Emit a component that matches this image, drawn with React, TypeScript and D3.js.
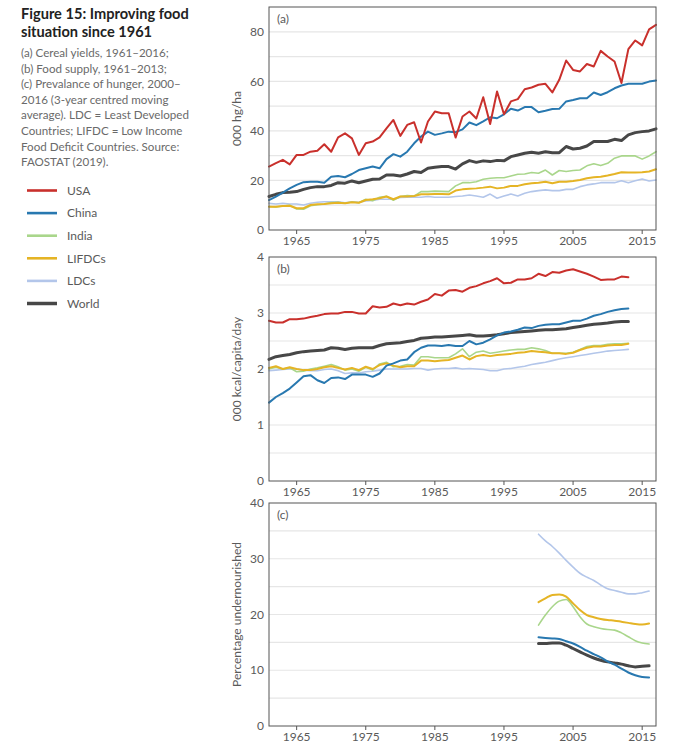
import React from 'react';
import * as d3 from 'd3';

// ---------- DATA ----------
const seriesNames = ['USA', 'China', 'India', 'LIFDCs', 'LDCs', 'World'];
const seriesColors = ['#c9302c', '#2878b0', '#a9d68b', '#e5b425', '#b3c6ea', '#474747'];

const xTickYears = [1965, 1975, 1985, 1995, 2005, 2015];

// (a) Cereal yields, 000 hg/ha, 1961–2017
const yieldStart = 1961;
const yieldUSA = [25.6, 27, 28.3, 26.5, 30.3, 30.3, 31.6, 32, 34.6, 31.6, 37.4, 39, 37, 30.3, 35, 35.7, 37.4, 41, 44.4, 38, 42.4, 43.5, 35.3, 43.8, 47.8, 47.1, 47.1, 37.3, 45.8, 47.8, 45, 53.6, 42.8, 55.9, 46.7, 51.9, 52.8, 56.8, 57.5, 58.6, 59, 55.5, 60.6, 68.4, 64.6, 64, 67, 66, 72.3, 70, 68, 59.3, 73, 76.5, 74.5, 81, 82.8];
const yieldChina = [12.1, 13.5, 15.1, 16.8, 18.2, 19.3, 19.5, 19.5, 19.1, 21.5, 21.8, 21.3, 22.6, 24.2, 24.9, 25.6, 24.9, 28.6, 30.6, 29.6, 31.6, 35, 37.7, 39.7, 38.4, 39, 39.7, 39.5, 40.6, 43.4, 42.3, 43.8, 45.5, 45.1, 46.7, 48.9, 48.2, 49.6, 49.6, 47.5, 48.1, 48.8, 48.9, 51.9, 52.5, 53.2, 53.2, 55.5, 54.5, 55.6, 57.2, 58.3, 59, 59, 59, 59.9, 60.3];
const yieldIndia = [9.5, 9.3, 9.7, 10.0, 8.5, 8.4, 9.8, 10.2, 10.5, 11.1, 11.2, 10.8, 11.3, 11.0, 12.4, 11.8, 13.2, 13.6, 12.0, 13.5, 13.9, 13.7, 15.5, 15.5, 15.7, 15.6, 15.5, 17.8, 19.1, 19.1, 19.5, 20.5, 20.9, 21.1, 21.1, 21.8, 22.5, 22.6, 23.2, 22.9, 24.2, 22.2, 24, 23.6, 24, 24.2, 25.9, 26.7, 26, 26.9, 29, 29.9, 29.9, 29.9, 28.6, 29.9, 31.6];
const yieldLIFDCs = [9.4, 9.4, 9.7, 9.8, 8.8, 8.8, 10.1, 10.4, 10.5, 10.8, 11, 10.8, 11.2, 11, 12.1, 12.4, 12.8, 13.5, 12.4, 13.5, 13.5, 13.7, 14.4, 14.4, 14.5, 14.5, 14.4, 15.9, 16.4, 16.6, 16.8, 17.1, 17.5, 16.8, 17.1, 17.8, 17.8, 18.5, 18.9, 19.1, 19.5, 18.9, 19.5, 19.5, 19.8, 20.2, 20.9, 21.3, 21.5, 22, 22.6, 23.3, 23.2, 23.2, 23.3, 23.6, 24.5];
const yieldLDCs = [10.8, 10.5, 10.8, 10.5, 10.5, 10.1, 10.8, 11.2, 11.4, 11.4, 11.4, 11, 11.4, 11.2, 11.7, 11.9, 12.4, 12.4, 12.4, 13.1, 13.2, 13.2, 13.2, 13.5, 13.2, 13.2, 13.2, 13.5, 13.7, 14.1, 13.7, 13.2, 14.5, 12.8, 13.7, 14.5, 13.7, 14.8, 15.5, 15.9, 16.2, 15.9, 15.9, 16.4, 16.4, 17.5, 18.2, 18.6, 19.1, 19.1, 19.1, 19.9, 19.1, 19.9, 20.6, 19.8, 20.2];
const yieldWorld = [13.5, 14.4, 15.1, 15.2, 15.5, 16.4, 17.1, 17.5, 17.5, 18, 19.1, 18.9, 19.8, 19.1, 19.8, 20.5, 20.6, 22.2, 22.2, 21.8, 22.6, 23.6, 23.2, 24.9, 25.3, 25.6, 25.6, 24.6, 26.7, 28, 27.3, 27.9, 27.6, 28.1, 27.9, 29.6, 30.3, 31, 31.4, 31, 31.6, 31.2, 31.2, 33.7, 32.7, 33, 33.9, 35.7, 35.7, 35.7, 36.6, 36.1, 38.4, 39.3, 39.7, 40, 40.8];

// (b) Food supply, 000 kcal/capita/day, 1961–2013
const supplyStart = 1961;
const supplyUSA = [2.86, 2.83, 2.83, 2.89, 2.89, 2.9, 2.93, 2.95, 2.98, 2.99, 2.99, 3.02, 3.02, 2.99, 2.99, 3.12, 3.1, 3.11, 3.17, 3.14, 3.17, 3.15, 3.2, 3.24, 3.34, 3.31, 3.4, 3.41, 3.38, 3.45, 3.48, 3.53, 3.57, 3.62, 3.53, 3.54, 3.6, 3.6, 3.62, 3.7, 3.66, 3.73, 3.72, 3.76, 3.78, 3.74, 3.7, 3.65, 3.59, 3.6, 3.6, 3.65, 3.64];
const supplyChina = [1.4, 1.5, 1.57, 1.65, 1.76, 1.87, 1.89, 1.8, 1.75, 1.84, 1.85, 1.82, 1.9, 1.9, 1.9, 1.86, 1.92, 2.06, 2.1, 2.15, 2.17, 2.3, 2.38, 2.42, 2.42, 2.41, 2.43, 2.41, 2.41, 2.5, 2.44, 2.47, 2.53, 2.6, 2.65, 2.67, 2.7, 2.74, 2.73, 2.77, 2.79, 2.8, 2.8, 2.83, 2.86, 2.86, 2.9, 2.95, 2.98, 3.02, 3.05, 3.07, 3.08];
const supplyIndia = [2.0, 2.03, 2.0, 2.02, 1.95, 1.96, 2.0, 2.02, 2.05, 2.08, 2.04, 1.98, 2.0, 1.96, 2.03, 1.98, 2.09, 2.12, 2.04, 2.05, 2.08, 2.07, 2.22, 2.22, 2.2, 2.2, 2.2, 2.27, 2.36, 2.22, 2.3, 2.32, 2.28, 2.3, 2.32, 2.34, 2.35, 2.35, 2.38, 2.36, 2.33, 2.28, 2.28, 2.28, 2.3, 2.35, 2.4, 2.42, 2.42, 2.44, 2.45, 2.45, 2.46];
const supplyLIFDCs = [2.02, 2.05, 2.0, 2.03, 2.0, 1.98, 1.98, 2.0, 2.03, 2.05, 2.02, 1.99, 2.02, 1.98, 2.04, 2.0, 2.07, 2.1, 2.06, 2.03, 2.05, 2.05, 2.15, 2.15, 2.14, 2.15, 2.16, 2.2, 2.24, 2.17, 2.23, 2.25, 2.23, 2.25, 2.26, 2.27, 2.29, 2.3, 2.32, 2.31, 2.3, 2.28, 2.28, 2.27, 2.29, 2.34, 2.38, 2.4, 2.4, 2.42, 2.43, 2.43, 2.45];
const supplyLDCs = [1.97, 1.98, 1.99, 2.0, 2.0, 1.98, 1.97, 1.97, 1.99, 2.0, 1.97, 1.92, 1.93, 1.93, 1.95, 1.96, 1.98, 2.0, 2.0, 2.0, 2.0, 2.01, 2.01, 1.98, 2.0, 2.01, 2.01, 2.02, 2.0, 2.01, 2.0, 1.99, 1.97, 1.97, 2.0, 2.01, 2.03, 2.05, 2.08, 2.1, 2.12, 2.15, 2.18, 2.2, 2.22, 2.24, 2.26, 2.28, 2.3, 2.32, 2.33, 2.34, 2.35];
const supplyWorld = [2.17, 2.22, 2.24, 2.26, 2.29, 2.31, 2.32, 2.33, 2.34, 2.38, 2.37, 2.35, 2.37, 2.38, 2.38, 2.38, 2.42, 2.45, 2.46, 2.47, 2.49, 2.51, 2.55, 2.56, 2.57, 2.57, 2.58, 2.59, 2.6, 2.61, 2.59, 2.59, 2.6, 2.61, 2.63, 2.65, 2.66, 2.67, 2.68, 2.69, 2.7, 2.7, 2.71, 2.72, 2.74, 2.76, 2.78, 2.8, 2.81, 2.82, 2.84, 2.85, 2.85];

// (c) Prevalence of undernourishment, %, 2000–2016
const hungerStart = 2000;
const hungerChina = [15.9, 15.8, 15.7, 15.6, 15.2, 14.8, 14.2, 13.5, 12.9, 12.3, 11.6, 11.0, 10.3, 9.6, 9.1, 8.8, 8.7];
const hungerIndia = [18.1, 19.9, 21.4, 22.4, 22.7, 21.4, 19.6, 18.3, 17.8, 17.5, 17.3, 17.2, 16.7, 16.0, 15.3, 14.9, 14.7];
const hungerLIFDCs = [22.2, 22.9, 23.5, 23.6, 23.2, 22.0, 20.8, 19.9, 19.5, 19.2, 19.0, 18.9, 18.7, 18.5, 18.3, 18.2, 18.4];
const hungerLDCs = [34.4, 33.2, 32.2, 31.0, 29.7, 28.5, 27.4, 26.7, 26.1, 25.3, 24.6, 24.3, 24.0, 23.7, 23.7, 23.9, 24.2];
const hungerWorld = [14.8, 14.8, 14.9, 14.9, 14.5, 13.9, 13.3, 12.7, 12.2, 11.8, 11.5, 11.3, 11.1, 10.8, 10.6, 10.7, 10.8];

const titleLines = ['Figure 15: Improving food', 'situation since 1961'];
const captionLines = [
  '(a) Cereal yields, 1961–2016;',
  '(b) Food supply, 1961–2013;',
  '(c) Prevalance of hunger, 2000–',
  '2016 (3-year centred moving',
  'average). LDC = Least Developed',
  'Countries; LIFDC = Low Income',
  'Food Deficit Countries. Source:',
  'FAOSTAT (2019).',
];

// ---------- STYLE / LAYOUT ----------
const FONT = 'Lato, "Open Sans", sans-serif';
const TEXT = '#5a5a5a';
const widths = [2, 2, 1.6, 2, 1.6, 3];
const drawOrder = [4, 2, 3, 5, 1, 0];

const plotLeft = 269;
const plotRight = 656;

type Panel = {
  label: string;
  yTitle: string;
  top: number;
  bottom: number;
  yMax: number;
  yTicks: number[];
  gridStep: number;
  start: number;
  series: number[][];
  smooth: boolean;
};

const panels: Panel[] = [
  {
    label: '(a)', yTitle: '000 hg/ha', top: 7, bottom: 230, yMax: 90,
    yTicks: [0, 20, 40, 60, 80], gridStep: 10, start: yieldStart,
    series: [yieldUSA, yieldChina, yieldIndia, yieldLIFDCs, yieldLDCs, yieldWorld], smooth: false,
  },
  {
    label: '(b)', yTitle: '000 kcal/capita/day', top: 257, bottom: 481, yMax: 4,
    yTicks: [0, 1, 2, 3, 4], gridStep: 0.5, start: supplyStart,
    series: [supplyUSA, supplyChina, supplyIndia, supplyLIFDCs, supplyLDCs, supplyWorld], smooth: false,
  },
  {
    label: '(c)', yTitle: 'Percentage undernourished', top: 503, bottom: 726, yMax: 40,
    yTicks: [0, 10, 20, 30, 40], gridStep: 5, start: hungerStart,
    series: [[], hungerChina, hungerIndia, hungerLIFDCs, hungerLDCs, hungerWorld], smooth: true,
  },
];

const x = d3.scaleLinear().domain([1961, 2017]).range([plotLeft, plotRight]);

function PanelView({ p }: { p: Panel }) {
  const y = d3.scaleLinear().domain([0, p.yMax]).range([p.bottom, p.top]);
  const grid = d3.range(p.gridStep, p.yMax + 1e-9, p.gridStep).filter((v) => v < p.yMax - 1e-9);
  const line = d3
    .line<number>()
    .x((_, i) => x(p.start + i))
    .y((d) => y(d))
    .curve(p.smooth ? d3.curveMonotoneX : d3.curveLinear);
  const midY = (p.top + p.bottom) / 2;
  return (
    <g>
      {grid.map((g) => (
        <line key={g} x1={plotLeft} x2={plotRight} y1={y(g)} y2={y(g)} stroke="#e6e6e6" strokeWidth={1.2} />
      ))}
      {drawOrder.map((si) =>
        p.series[si].length ? (
          <path key={si} d={line(p.series[si]) || ''} fill="none" stroke={seriesColors[si]}
            strokeWidth={widths[si]} strokeLinejoin="round" strokeLinecap="round" />
        ) : null
      )}
      <rect x={plotLeft} y={p.top} width={plotRight - plotLeft} height={p.bottom - p.top}
        fill="none" stroke="#555" strokeWidth={1} />
      {p.yTicks.map((t) => (
        <text key={t} x={plotLeft - 5} y={y(t)} dy="0.35em" textAnchor="end" fontSize={12}
          fill={TEXT} fontFamily={FONT}>{t}</text>
      ))}
      {xTickYears.map((yr) => (
        <g key={yr}>
          <line x1={x(yr)} x2={x(yr)} y1={p.bottom} y2={p.bottom + 4} stroke="#555" />
          <text x={x(yr)} y={p.bottom + 15} textAnchor="middle" fontSize={12} fill={TEXT}
            fontFamily={FONT}>{yr}</text>
        </g>
      ))}
      <text x={plotLeft + 8} y={p.top + 16} fontSize={12} fill={TEXT} fontFamily={FONT}>{p.label}</text>
      <text transform={`translate(${237},${midY}) rotate(-90)`} textAnchor="middle" dy="0.35em"
        fontSize={12} fill={TEXT} fontFamily={FONT}>{p.yTitle}</text>
    </g>
  );
}

export default function App() {
  const legendY = d3.scaleLinear().domain([0, seriesNames.length - 1]).range([190.5, 303.5]);
  return (
    <svg width={700} height={755} style={{ position: 'absolute', left: 0, top: 0, background: '#fff' }}>
      {titleLines.map((t, i) => (
        <text key={t} x={21} y={18.5 + i * 18.5} fontSize={14.6} fontWeight="bold" fill="#222"
          fontFamily={FONT}>{t}</text>
      ))}
      {captionLines.map((t, i) => (
        <text key={i} x={21} y={57 + i * 15.6} fontSize={11.6} fill="#6a6a6a" fontFamily={FONT}>{t}</text>
      ))}
      {seriesNames.map((n, i) => (
        <g key={n}>
          <line x1={27} x2={57} y1={legendY(i)} y2={legendY(i)} stroke={seriesColors[i]}
            strokeWidth={i === 5 ? 3.5 : 2.6} />
          <text x={67} y={legendY(i)} dy="0.35em" fontSize={12} fill={TEXT} fontFamily={FONT}>{n}</text>
        </g>
      ))}
      {panels.map((p) => (
        <PanelView key={p.label} p={p} />
      ))}
    </svg>
  );
}
